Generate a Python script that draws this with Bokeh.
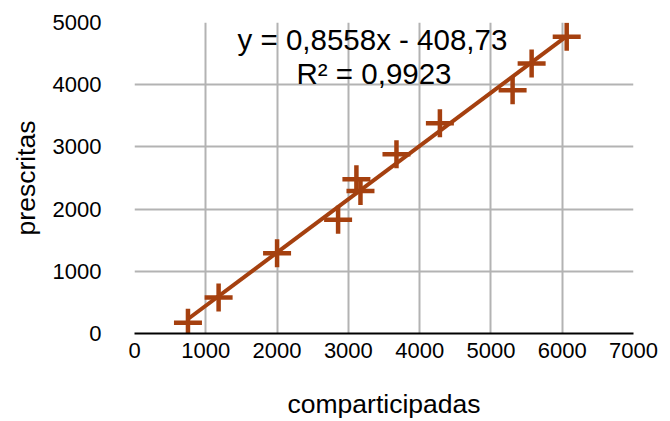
from bokeh.plotting import figure
from bokeh.models import FixedTicker, Label, Range1d
from bokeh.embed import file_html
from bokeh.resources import INLINE

# Data
comparticipadas = [750, 1180, 2000, 2856, 3113, 3170, 3675, 4284, 5304, 5571, 6063]
prescritas = [172, 579, 1290, 1830, 2480, 2290, 2880, 3380, 3910, 4340, 4770]
slope = 0.8558
intercept = -408.73
eq_text = "y = 0,8558x - 408,73"
r2_text = "R² = 0,9923"
x_ticks = [0, 1000, 2000, 3000, 4000, 5000, 6000, 7000]
y_ticks = [0, 1000, 2000, 3000, 4000, 5000]

FONT = "Liberation Sans"
COLOR = "#A5400F"

p = figure(width=662, height=421, output_backend="svg", toolbar_location=None,
           x_range=Range1d(0, 7000), y_range=Range1d(0, 5000),
           min_border_left=134, min_border_right=29, min_border_top=22, min_border_bottom=88)
p.outline_line_color = None
p.background_fill_color = "white"
p.border_fill_color = "white"

p.xaxis.ticker = FixedTicker(ticks=x_ticks)
p.yaxis.ticker = FixedTicker(ticks=y_ticks)
for g in (p.xgrid, p.ygrid):
    g.grid_line_color = "#b3b3b3"
    g.grid_line_width = 2
p.xgrid.ticker = FixedTicker(ticks=x_ticks)
p.ygrid.ticker = FixedTicker(ticks=y_ticks)

for ax in (p.xaxis, p.yaxis):
    ax.major_tick_line_color = None
    ax.minor_tick_line_color = None
    ax.major_label_text_font = FONT
    ax.major_label_text_font_size = "22px"
    ax.major_label_text_color = "black"
    ax.axis_label_text_font = FONT
    ax.axis_label_text_font_size = "26.5px"
    ax.axis_label_text_font_style = "normal"
    ax.axis_label_text_color = "black"

p.xaxis.axis_label = "comparticipadas"
p.yaxis.axis_label = "prescritas"
p.xaxis.axis_line_color = "black"
p.xaxis.axis_line_width = 2
p.yaxis.axis_line_color = None
p.xaxis.major_label_standoff = 3
p.xaxis.axis_label_standoff = 28
p.yaxis.major_label_standoff = 27
p.yaxis.axis_label_standoff = 9

# trend line
x0, x1 = min(comparticipadas), max(comparticipadas)
p.line([x0, x1], [slope * x0 + intercept, slope * x1 + intercept],
       line_color=COLOR, line_width=4)

p.scatter(comparticipadas, prescritas, marker="cross", size=28,
          line_color=COLOR, line_width=4.5)

p.add_layout(Label(x=3338, y=4719, text=eq_text, text_align="center",
                   text_baseline="middle", text_font=FONT,
                   text_font_size="29.5px", text_color="black"))
p.add_layout(Label(x=3360, y=4180, text=r2_text, text_align="center",
                   text_baseline="middle", text_font=FONT,
                   text_font_size="29.5px", text_color="black"))

open("out.html", "w").write(file_html(p, INLINE))
